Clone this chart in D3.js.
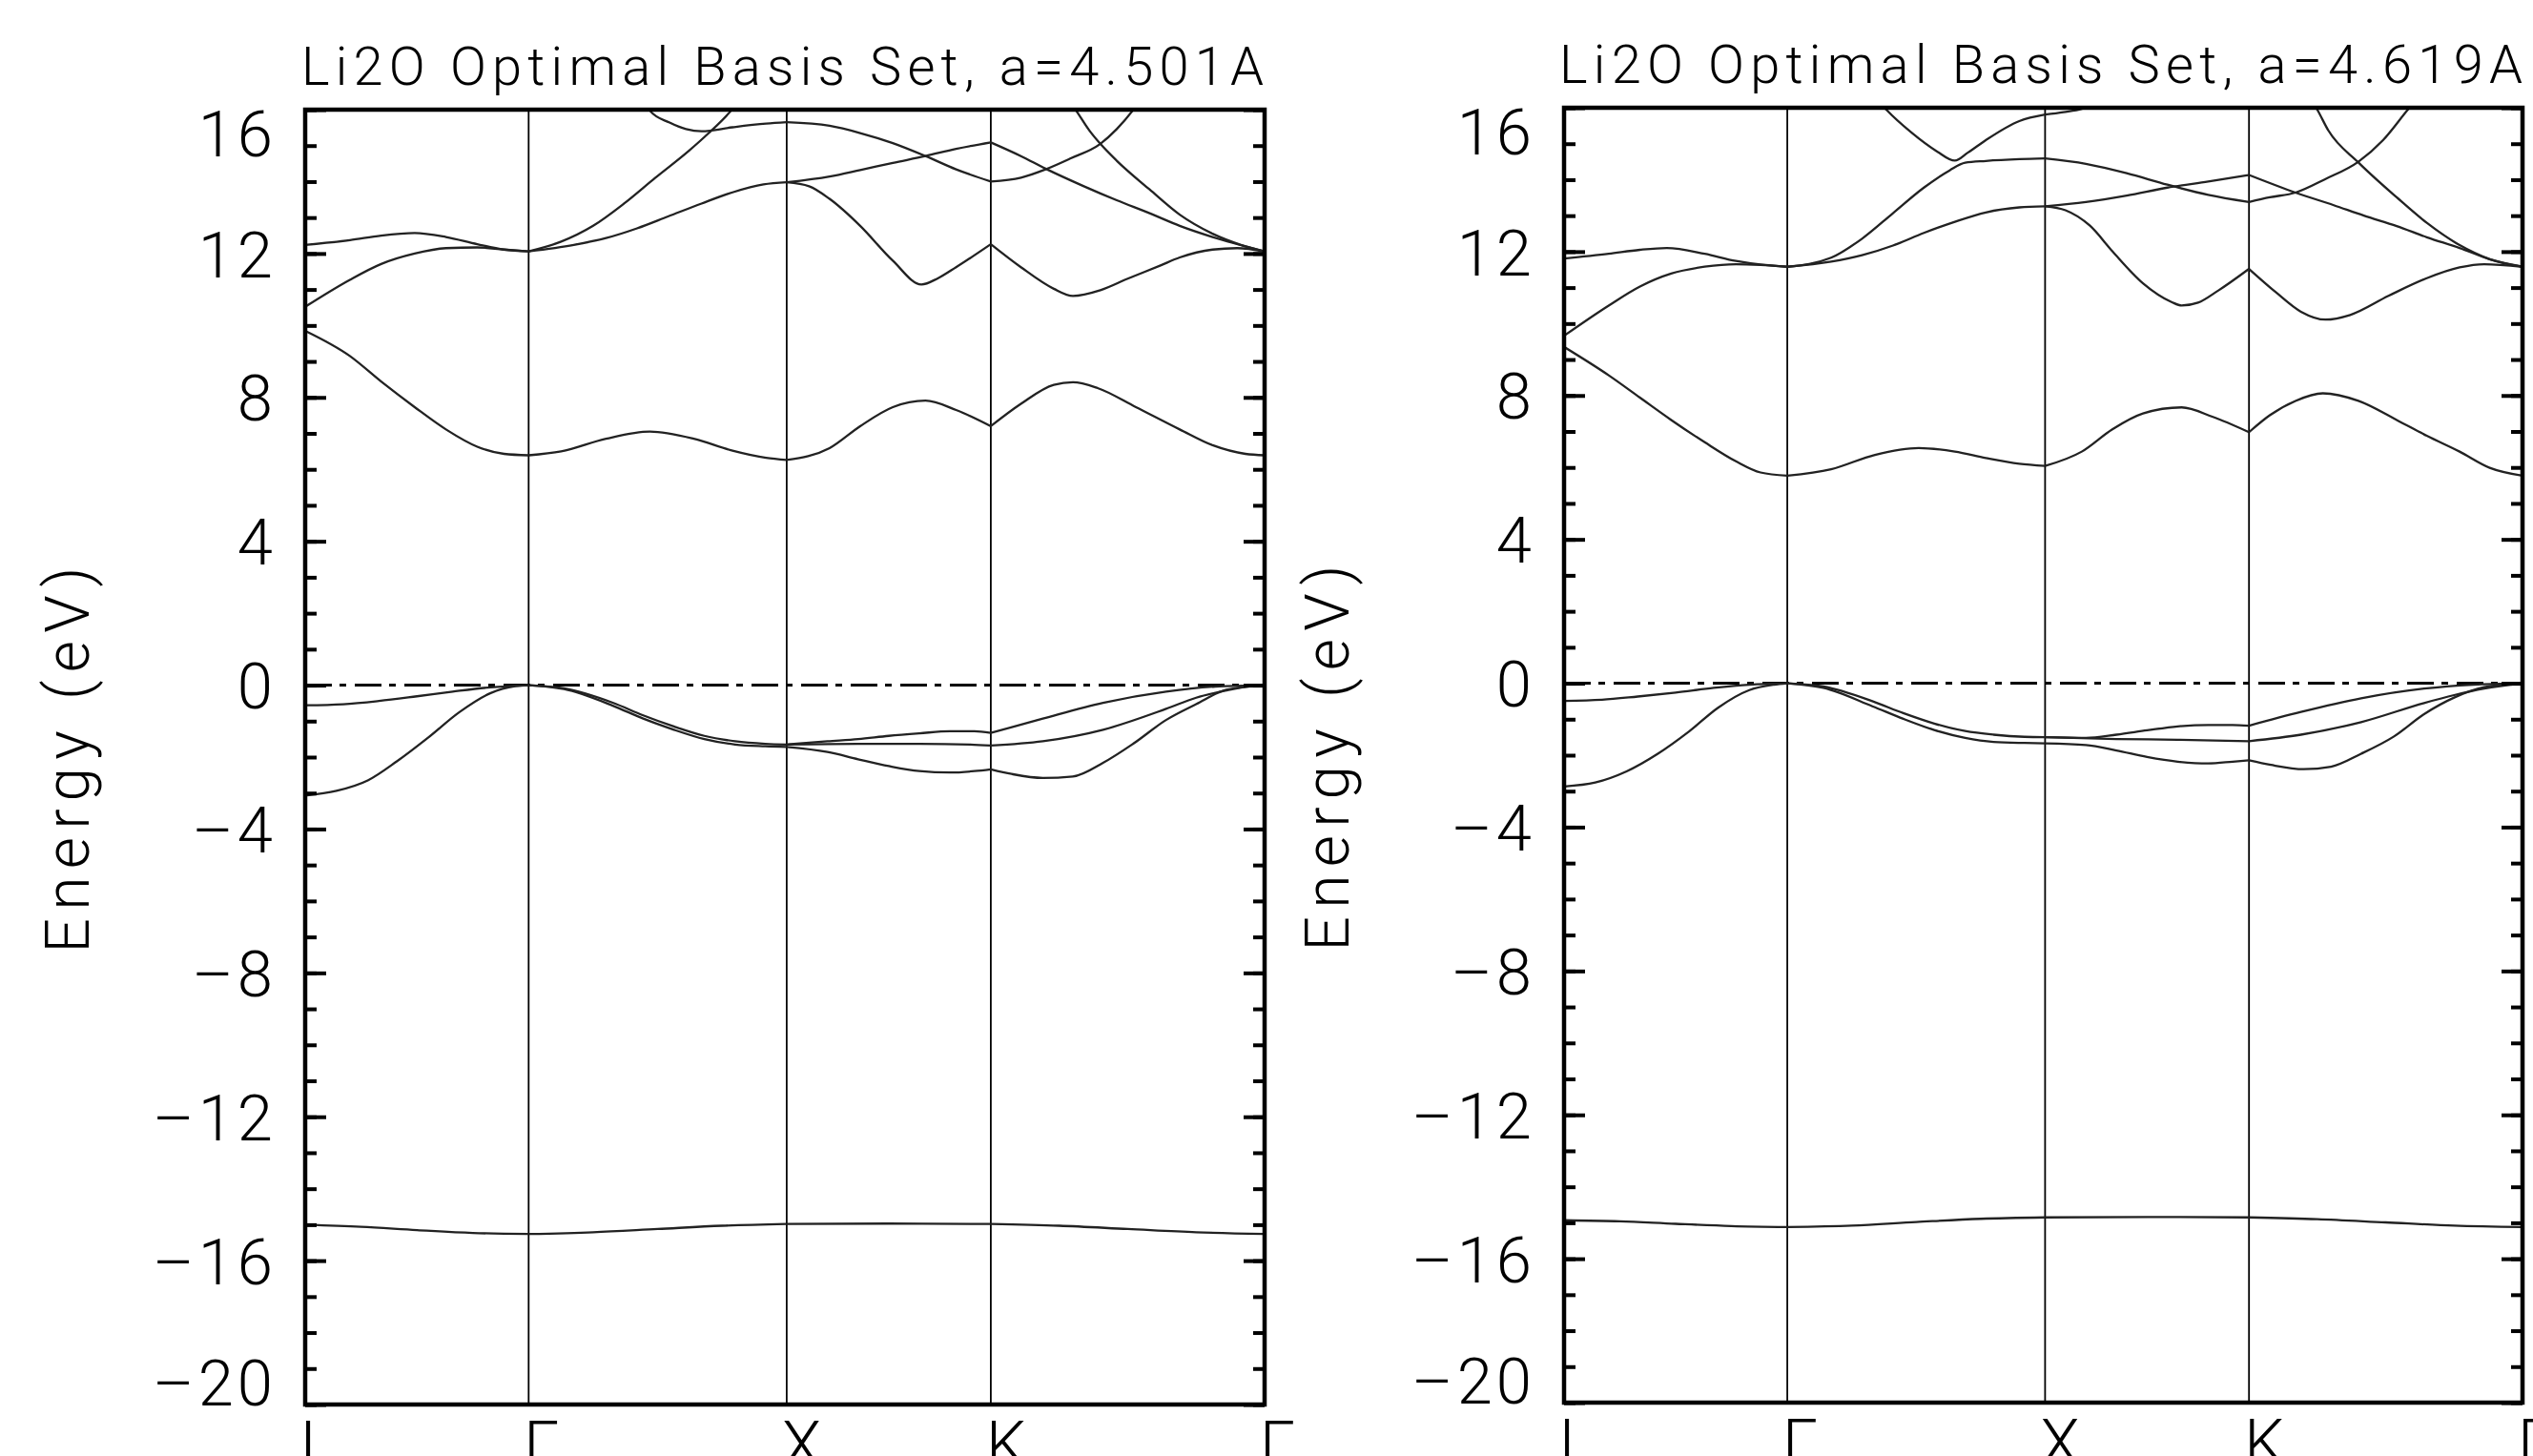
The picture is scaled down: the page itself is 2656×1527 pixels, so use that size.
<!DOCTYPE html>
<html>
<head>
<meta charset="utf-8">
<script src="https://cdn.jsdelivr.net/npm/d3@7"></script>
<style>
  body { margin: 0; background: #fff; }
  text { font-family: Roboto, "Liberation Sans", sans-serif; font-weight: 300; fill: #000; }
</style>
</head>
<body>
<svg id="chart"></svg>
<script>
// k-path L-Gamma-X-K-Gamma (units of 2pi/a) and labels
var kNodes = [0, 0.866, 1.866, 2.657, 3.718];
var kLabels = ["L", "Γ", "X", "K", "Γ"];

// energy axis
var eRange = [-20, 16];
var yMajorTicks = [-20, -16, -12, -8, -4, 0, 4, 8, 12, 16];
var yMinorTicks = d3.range(-20, 17, 1);

var titles = ["Li2O Optimal Basis Set, a=4.501A", "Li2O Optimal Basis Set, a=4.619A"];
var yTitle = "Energy (eV)";

// bands: [segment (0 L-G, 1 G-X, 2 X-K, 3 K-G), [[fraction along segment, energy eV], ...]]
var bandsA = [
  // O 2s
  [0, [[0,-15.0],[0.25,-15.06],[0.5,-15.15],[0.75,-15.23],[1,-15.26]]],
  [1, [[0,-15.26],[0.25,-15.21],[0.5,-15.12],[0.75,-15.03],[1,-14.98]]],
  [2, [[0,-14.98],[0.5,-14.97],[1,-14.98]]],
  [3, [[0,-14.98],[0.25,-15.03],[0.5,-15.12],[0.75,-15.21],[1,-15.26]]],
  // valence
  [0, [[0,-0.56],[0.17,-0.53],[0.33,-0.44],[0.5,-0.31],[0.66,-0.18],[0.83,-0.06],[1,0]]],
  [0, [[0,-3.07],[0.14,-2.94],[0.28,-2.65],[0.41,-2.12],[0.55,-1.46],[0.69,-0.75],[0.83,-0.22],[0.94,-0.03],[1,0]]],
  [1, [[0,0],[0.137,-0.09],[0.326,-0.49],[0.444,-0.84],[0.563,-1.15],[0.681,-1.41],[0.8,-1.56],[0.917,-1.63],[1,-1.65]]],
  [1, [[0,0],[0.137,-0.11],[0.326,-0.57],[0.444,-0.93],[0.563,-1.24],[0.681,-1.50],[0.8,-1.65],[0.917,-1.70],[1,-1.72]]],
  [2, [[0,-1.65],[0.2,-1.56],[0.35,-1.50],[0.5,-1.41],[0.65,-1.34],[0.8,-1.28],[0.92,-1.28],[1,-1.33]]],
  [2, [[0,-1.65],[0.35,-1.63],[0.65,-1.63],[0.9,-1.65],[1,-1.68]]],
  [2, [[0,-1.72],[0.2,-1.86],[0.35,-2.06],[0.5,-2.25],[0.65,-2.39],[0.8,-2.43],[0.92,-2.39],[1,-2.34]]],
  [3, [[0,-1.33],[0.19,-0.93],[0.41,-0.49],[0.64,-0.18],[0.82,-0.04],[1,0]]],
  [3, [[0,-1.68],[0.19,-1.56],[0.41,-1.24],[0.64,-0.66],[0.75,-0.35],[0.86,-0.15],[0.95,-0.03],[1,0]]],
  [3, [[0,-2.34],[0.076,-2.47],[0.19,-2.58],[0.30,-2.54],[0.41,-2.16],[0.52,-1.63],[0.64,-0.97],[0.75,-0.53],[0.86,-0.13],[1,0]]],
  // conduction
  [0, [[0,9.85],[0.2,9.15],[0.34,8.44],[0.49,7.73],[0.63,7.11],[0.77,6.63],[0.89,6.43],[1,6.39]]],
  [1, [[0,6.39],[0.126,6.50],[0.30,6.85],[0.47,7.05],[0.64,6.85],[0.79,6.52],[0.92,6.32],[1,6.26]]],
  [2, [[0,6.26],[0.21,6.59],[0.36,7.20],[0.52,7.73],[0.68,7.91],[0.83,7.65],[1,7.20]]],
  [3, [[0,7.20],[0.11,7.82],[0.23,8.35],[0.30,8.42],[0.39,8.26],[0.53,7.73],[0.69,7.11],[0.81,6.67],[0.93,6.43],[1,6.39]]],
  [0, [[0,10.52],[0.2,11.27],[0.34,11.71],[0.49,12.0],[0.63,12.15],[0.77,12.17],[0.89,12.11],[1,12.06]]],
  [0, [[0,12.24],[0.2,12.37],[0.34,12.5],[0.49,12.57],[0.63,12.46],[0.77,12.26],[0.89,12.11],[1,12.06]]],
  [1, [[0,12.06],[0.126,12.33],[0.25,12.77],[0.37,13.39],[0.49,14.10],[0.62,14.85],[0.695,15.33],[0.784,15.97],[0.82,16.3]]],
  [1, [[0,12.06],[0.175,12.24],[0.30,12.43],[0.42,12.70],[0.54,13.03],[0.67,13.39],[0.79,13.70],[0.91,13.92],[1,13.98]]],
  [1, [[0.44,16.3],[0.47,15.97],[0.546,15.64],[0.61,15.46],[0.67,15.40],[0.79,15.51],[0.92,15.61],[1,15.65]]],
  [2, [[0,13.98],[0.11,13.87],[0.21,13.52],[0.36,12.77],[0.52,11.80],[0.66,11.14],[0.74,11.31],[0.83,11.62],[1,12.26]]],
  [2, [[0,13.98],[0.21,14.14],[0.36,14.32],[0.52,14.52],[0.68,14.71],[0.83,14.91],[1,15.09]]],
  [2, [[0,15.65],[0.21,15.55],[0.36,15.35],[0.52,15.07],[0.68,14.71],[0.83,14.34],[1,14.0]]],
  [3, [[0,12.26],[0.11,11.62],[0.23,11.02],[0.30,10.82],[0.40,10.98],[0.50,11.30],[0.62,11.67],[0.69,11.89],[0.81,12.11],[0.90,12.15],[1,12.06]]],
  [3, [[0,15.09],[0.11,14.71],[0.20,14.36],[0.34,13.87],[0.46,13.48],[0.58,13.12],[0.69,12.77],[0.81,12.46],[0.93,12.20],[1,12.06]]],
  [3, [[0,14.0],[0.11,14.11],[0.20,14.34],[0.29,14.64],[0.40,15.05],[0.46,15.46],[0.52,15.99],[0.55,16.3]]],
  [3, [[0.28,16.3],[0.31,15.99],[0.36,15.42],[0.40,15.05],[0.46,14.58],[0.58,13.78],[0.69,13.08],[0.81,12.55],[0.93,12.20],[1,12.06]]]
];

var bandsB = [
  // O 2s
  [0, [[0,-14.93],[0.25,-14.96],[0.5,-15.03],[0.75,-15.09],[1,-15.12]]],
  [1, [[0,-15.12],[0.25,-15.08],[0.5,-14.98],[0.75,-14.89],[1,-14.85]]],
  [2, [[0,-14.85],[0.5,-14.84],[1,-14.85]]],
  [3, [[0,-14.85],[0.25,-14.9],[0.5,-14.99],[0.75,-15.08],[1,-15.12]]],
  // valence
  [0, [[0,-0.49],[0.17,-0.46],[0.33,-0.37],[0.5,-0.26],[0.67,-0.13],[0.83,-0.04],[1,0]]],
  [0, [[0,-2.87],[0.14,-2.76],[0.28,-2.45],[0.42,-1.96],[0.56,-1.34],[0.69,-0.68],[0.83,-0.19],[0.94,-0.04],[1,0]]],
  [1, [[0,0],[0.14,-0.09],[0.33,-0.50],[0.45,-0.83],[0.57,-1.12],[0.69,-1.33],[0.8,-1.43],[0.92,-1.49],[1,-1.50]]],
  [1, [[0,0],[0.14,-0.13],[0.33,-0.64],[0.45,-0.99],[0.57,-1.30],[0.69,-1.52],[0.8,-1.63],[0.92,-1.66],[1,-1.67]]],
  [2, [[0,-1.50],[0.2,-1.52],[0.35,-1.43],[0.5,-1.31],[0.65,-1.20],[0.8,-1.16],[0.92,-1.16],[1,-1.18]]],
  [2, [[0,-1.50],[0.35,-1.55],[0.65,-1.57],[1,-1.61]]],
  [2, [[0,-1.67],[0.2,-1.72],[0.35,-1.87],[0.5,-2.05],[0.65,-2.18],[0.8,-2.23],[0.92,-2.18],[1,-2.14]]],
  [3, [[0,-1.18],[0.19,-0.80],[0.41,-0.42],[0.64,-0.15],[0.82,-0.04],[1,0]]],
  [3, [[0,-1.61],[0.19,-1.43],[0.41,-1.08],[0.64,-0.55],[0.75,-0.33],[0.86,-0.15],[1,0]]],
  [3, [[0,-2.14],[0.08,-2.27],[0.2,-2.39],[0.3,-2.32],[0.41,-1.96],[0.53,-1.48],[0.64,-0.86],[0.75,-0.40],[0.86,-0.11],[1,0]]],
  // conduction
  [0, [[0,9.35],[0.2,8.56],[0.34,7.94],[0.48,7.32],[0.63,6.70],[0.77,6.17],[0.88,5.86],[1,5.77]]],
  [1, [[0,5.77],[0.17,5.95],[0.34,6.35],[0.51,6.54],[0.65,6.44],[0.77,6.26],[0.90,6.10],[1,6.04]]],
  [2, [[0,6.04],[0.18,6.44],[0.33,7.06],[0.48,7.50],[0.67,7.67],[0.82,7.41],[1,6.98]]],
  [3, [[0,6.98],[0.076,7.45],[0.17,7.85],[0.27,8.06],[0.40,7.85],[0.54,7.32],[0.65,6.88],[0.77,6.44],[0.88,5.99],[1,5.77]]],
  [0, [[0,9.66],[0.2,10.50],[0.34,11.03],[0.48,11.39],[0.63,11.58],[0.77,11.65],[0.88,11.63],[1,11.58]]],
  [0, [[0,11.81],[0.2,11.94],[0.34,12.05],[0.46,12.10],[0.63,11.94],[0.77,11.74],[0.88,11.64],[1,11.58]]],
  [1, [[0,11.58],[0.17,11.83],[0.29,12.36],[0.41,13.07],[0.53,13.78],[0.63,14.26],[0.69,14.47],[0.77,14.52],[0.90,14.57],[1,14.59]]],
  [1, [[0,11.58],[0.17,11.72],[0.29,11.90],[0.41,12.17],[0.53,12.52],[0.65,12.83],[0.77,13.09],[0.90,13.23],[1,13.26]]],
  [1, [[0.34,16.3],[0.385,15.94],[0.48,15.32],[0.58,14.79],[0.65,14.53],[0.70,14.75],[0.77,15.10],[0.90,15.63],[1,15.81]]],
  [2, [[0,13.26],[0.10,13.15],[0.22,12.72],[0.33,12.01],[0.48,11.12],[0.62,10.60],[0.67,10.50],[0.75,10.58],[0.85,10.92],[1,11.52]]],
  [2, [[0,13.26],[0.2,13.38],[0.4,13.56],[0.6,13.78],[0.8,13.95],[1,14.13]]],
  [2, [[0,14.59],[0.2,14.44],[0.4,14.18],[0.6,13.86],[0.8,13.58],[1,13.38]]],
  [2, [[0,15.81],[0.09,15.88],[0.18,15.97],[0.3,16.3]]],
  [3, [[0,11.52],[0.10,10.86],[0.19,10.33],[0.28,10.11],[0.37,10.24],[0.51,10.77],[0.65,11.26],[0.77,11.56],[0.86,11.65],[1,11.58]]],
  [3, [[0,14.13],[0.17,13.64],[0.31,13.29],[0.42,13.0],[0.54,12.71],[0.65,12.40],[0.77,12.10],[0.88,11.79],[1,11.58]]],
  [3, [[0,13.38],[0.076,13.51],[0.17,13.64],[0.28,14.02],[0.40,14.50],[0.49,15.10],[0.58,15.94],[0.62,16.3]]],
  [3, [[0.22,16.3],[0.25,15.94],[0.29,15.37],[0.40,14.48],[0.54,13.51],[0.65,12.80],[0.77,12.18],[0.88,11.79],[1,11.58]]]
];

var svg = d3.select("#chart")
  .attr("width", 2656)
  .attr("height", 1527);

svg.append("rect")
  .attr("width", 2656)
  .attr("height", 1527)
  .attr("fill", "#fff");

var panels = [
  {x0: 320, x1: 1326, y0: 115, y1: 1473, title: titles[0], tx0: 316, tx1: 1325, tBase: 89, labX: 93, bands: bandsA},
  {x0: 1640, x1: 2645, y0: 113, y1: 1471, title: titles[1], tx0: 1635, tx1: 2645, tBase: 87, labX: 1414, bands: bandsB}
];

// long minus like the original plot font
function fmtTick(d) {
  return d < 0 ? "\u2013" + Math.abs(d) : String(d);
}

panels.forEach(function(p, i) {
  var x = d3.scaleLinear().domain([kNodes[0], kNodes[kNodes.length - 1]]).range([p.x0, p.x1]);
  var y = d3.scaleLinear().domain(eRange).range([p.y1, p.y0]);

  svg.append("clipPath").attr("id", "clip" + i)
    .append("rect")
      .attr("x", p.x0).attr("y", p.y0)
      .attr("width", p.x1 - p.x0).attr("height", p.y1 - p.y0);

  var g = svg.append("g");

  // symmetry lines
  g.selectAll(".kline")
    .data(kNodes.slice(1, -1))
    .enter().append("line")
      .attr("x1", function(d) { return x(d); })
      .attr("x2", function(d) { return x(d); })
      .attr("y1", p.y0).attr("y2", p.y1)
      .attr("stroke", "#000")
      .attr("stroke-width", 1.8);

  // Fermi level
  g.append("line")
    .attr("x1", p.x0).attr("x2", p.x1)
    .attr("y1", y(0)).attr("y2", y(0))
    .attr("stroke", "#000")
    .attr("stroke-width", 3)
    .attr("stroke-dasharray", "28,8,7,9");

  // bands
  var line = d3.line()
    .x(function(d) { return x(d[0]); })
    .y(function(d) { return y(d[1]); })
    .curve(d3.curveMonotoneX);

  g.append("g")
    .attr("clip-path", "url(#clip" + i + ")")
    .selectAll("path")
    .data(p.bands)
    .enter().append("path")
      .attr("d", function(b) {
        var s = b[0], k0 = kNodes[s], k1 = kNodes[s + 1];
        return line(b[1].map(function(q) { return [k0 + q[0] * (k1 - k0), q[1]]; }));
      })
      .attr("fill", "none")
      .attr("stroke", "#222")
      .attr("stroke-width", 2.3);

  // ticks
  function tickAxis(axis, xPos, values, size) {
    var a = g.append("g")
      .attr("transform", "translate(" + xPos + ",0)")
      .call(axis(y).tickValues(values).tickSize(size).tickFormat(""));
    a.select(".domain").remove();
    a.selectAll("line").attr("stroke-width", 4);
    return a;
  }
  tickAxis(d3.axisLeft, p.x0, yMinorTicks, -12);
  tickAxis(d3.axisRight, p.x1, yMinorTicks, -12);
  tickAxis(d3.axisLeft, p.x0, yMajorTicks, -22);
  tickAxis(d3.axisRight, p.x1, yMajorTicks, -22);

  // tick labels
  var lab = g.append("g")
    .attr("transform", "translate(" + p.x0 + ",0)")
    .call(d3.axisLeft(y).tickValues(yMajorTicks).tickSize(0).tickPadding(30).tickFormat(fmtTick));
  lab.attr("font-size", null).attr("font-family", null);
  lab.select(".domain").remove();
  lab.selectAll("text")
    .style("font-size", "67px")
    .attr("letter-spacing", 4)
    .attr("dy", function(d) { return d === eRange[1] ? "0.72em" : (d === eRange[0] ? "0em" : "0.36em"); });

  // frame
  g.append("rect")
    .attr("x", p.x0).attr("y", p.y0)
    .attr("width", p.x1 - p.x0).attr("height", p.y1 - p.y0)
    .attr("fill", "none")
    .attr("stroke", "#000")
    .attr("stroke-width", 4.5);

  // k labels (cut by the bottom edge, as in the original)
  g.selectAll(".klab")
    .data(kNodes)
    .enter().append("text")
      .attr("x", function(d) { return x(d) - 5; })
      .attr("y", p.y1 + 65)
      .style("font-size", "67px")
      .text(function(d, j) { return kLabels[j]; });

  // title
  g.append("text")
    .attr("x", p.tx0)
    .attr("y", p.tBase)
    .attr("textLength", p.tx1 - p.tx0)
    .attr("lengthAdjust", "spacing")
    .style("font-size", "56px")
    .text(p.title);

  // y title
  g.append("text")
    .attr("transform", "translate(" + p.labX + "," + ((p.y0 + p.y1) / 2 + 3) + ") rotate(-90)")
    .attr("text-anchor", "middle")
    .attr("textLength", 405)
    .attr("lengthAdjust", "spacing")
    .style("font-size", "64px")
    .text(yTitle);
});
</script>
</body>
</html>
